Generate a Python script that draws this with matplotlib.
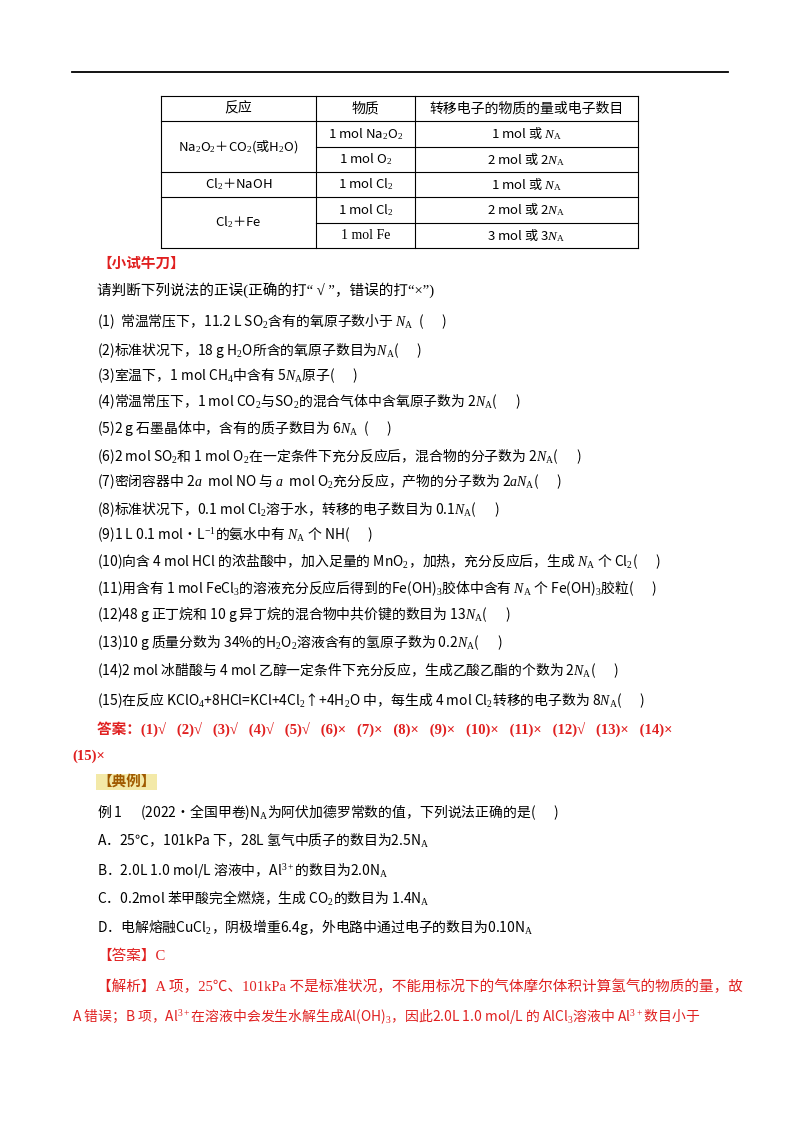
import matplotlib.pyplot as plt
from matplotlib.lines import Line2D

plt.rcParams['font.family'] = ['Liberation Serif', 'Noto Sans CJK SC', 'DejaVu Sans']
plt.rcParams['mathtext.fontset'] = 'custom'
plt.rcParams['mathtext.rm'] = 'Liberation Serif'
plt.rcParams['mathtext.it'] = 'Liberation Serif:italic'

NA = r"$N_\mathrm{A}$"
RED = '#e02020'

# table content
table_header = ["反应", "物质", "转移电子的物质的量或电子数目"]
table_groups = [
    (r"Na$_2$O$_2$＋CO$_2$(或H$_2$O)", [(r"1 mol Na$_2$O$_2$", "1 mol 或 " + NA),
                                       (r"1 mol O$_2$", "2 mol 或 2" + NA)]),
    (r"Cl$_2$＋NaOH", [(r"1 mol Cl$_2$", "1 mol 或 " + NA)]),
    (r"Cl$_2$＋Fe", [(r"1 mol Cl$_2$", "2 mol 或 2" + NA),
                    ("1 mol Fe", "3 mol 或 3" + NA)]),
]

questions = [
    r"(1)  常温常压下，11.2 L SO$_2$含有的氧原子数小于 " + NA + r"  (      )",
    r"(2)标准状况下，18 g H$_2$O所含的氧原子数目为" + NA + r"(      )",
    r"(3)室温下，1 mol CH$_4$中含有 5" + NA + r"原子(      )",
    r"(4)常温常压下，1 mol CO$_2$与SO$_2$的混合气体中含氧原子数为 2" + NA + r"(      )",
    r"(5)2 g 石墨晶体中，含有的质子数目为 6" + NA + r"  (      )",
    r"(6)2 mol SO$_2$和 1 mol O$_2$在一定条件下充分反应后，混合物的分子数为 2" + NA + r"(      )",
    r"(7)密闭容器中 2$a$  mol NO 与 $a$  mol O$_2$充分反应，产物的分子数为 2$a$" + NA + r"(      )",
    r"(8)标准状况下，0.1 mol Cl$_2$溶于水，转移的电子数目为 0.1" + NA + r"(      )",
    r"(9)1 L 0.1 mol·L$^{-1}$的氨水中有 " + NA + r" 个 NH(      )",
    r"(10)向含 4 mol HCl 的浓盐酸中，加入足量的 MnO$_2$，加热，充分反应后，生成 " + NA + r" 个 Cl$_2$(      )",
    r"(11)用含有 1 mol FeCl$_3$的溶液充分反应后得到的Fe(OH)$_3$胶体中含有 " + NA + r" 个 Fe(OH)$_3$胶粒(      )",
    r"(12)48 g 正丁烷和 10 g 异丁烷的混合物中共价键的数目为 13" + NA + r"(      )",
    r"(13)10 g 质量分数为 34%的H$_2$O$_2$溶液含有的氢原子数为 0.2" + NA + r"(      )",
    r"(14)2 mol 冰醋酸与 4 mol 乙醇一定条件下充分反应，生成乙酸乙酯的个数为 2" + NA + r"(      )",
    r"(15)在反应 KClO$_4$+8HCl=KCl+4Cl$_2$↑+4H$_2$O 中，每生成 4 mol Cl$_2$转移的电子数为 8" + NA + r"(      )",
]
question_y = [322, 350, 376, 402, 429, 456, 482, 509, 535, 561, 588, 614, 642, 670, 701]

answers = ["(1)√", "(2)√", "(3)√", "(4)√", "(5)√", "(6)×", "(7)×", "(8)×",
           "(9)×", "(10)×", "(11)×", "(12)√", "(13)×", "(14)×"]

example_lines = [
    (97, 812, "例 1      (2022•全国甲卷)N$_\\mathrm{A}$为阿伏加德罗常数的值，下列说法正确的是(      )"),
    (97, 841, "A．25℃，101kPa 下，28L 氢气中质子的数目为2.5N$_\\mathrm{A}$"),
    (97, 870, "B．2.0L 1.0 mol/L 溶液中，Al$^{3+}$的数目为2.0N$_\\mathrm{A}$"),
    (97, 898, "C．0.2mol 苯甲酸完全燃烧，生成 CO$_2$的数目为 1.4N$_\\mathrm{A}$"),
    (97, 927, "D．电解熔融CuCl$_2$，阴极增重6.4g，外电路中通过电子的数目为0.10N$_\\mathrm{A}$"),
]
analysis_lines = [
    (97, 956, "【答案】C"),
    (97, 987, "【解析】A 项，25℃、101kPa 不是标准状况，不能用标况下的气体摩尔体积计算氢气的物质的量，故"),
    (72, 1017, "A 错误；B 项，Al$^{3+}$在溶液中会发生水解生成Al(OH)$_3$，因此2.0L 1.0 mol/L 的 AlCl$_3$溶液中 Al$^{3+}$数目小于"),
]

W, H = 800, 1132
fig = plt.figure(figsize=(8, 11.32), dpi=100)
fig.patch.set_facecolor('white')
FS = 10.5


def put(x, y, s, **kw):
    kw.setdefault('fontsize', FS)
    kw.setdefault('va', 'center')
    if '$' in s:
        # mathtext plain parts use only the first family, so pick the CJK one
        kw['family'] = 'Noto Sans CJK SC'
        kw['fontsize'] = kw['fontsize'] * 0.95
    fig.text(x / W, 1 - y / H, s, **kw)


def hline(x0, x1, y, lw=0.8):
    fig.add_artist(Line2D([x0 / W, x1 / W], [1 - y / H] * 2, color='black', lw=lw))


def vline(x, y0, y1, lw=0.8):
    fig.add_artist(Line2D([x / W] * 2, [1 - y0 / H, 1 - y1 / H], color='black', lw=lw))


# header rule
hline(72, 728, 72, lw=1.3)

# table
cols = [161, 316, 415, 638]
row_h = 25.3
top = 96
nrows = 1 + sum(len(g[1]) for g in table_groups)
bottom = top + nrows * row_h
for c in cols:
    vline(c, top, bottom)
hline(cols[0], cols[-1], top)
for i, h in enumerate(table_header):
    put((cols[i] + cols[i + 1]) / 2, top + row_h / 2, h, ha='center', fontsize=10)
y = top + row_h
hline(cols[0], cols[-1], y)
for react, subs in table_groups:
    gy0 = y
    for j, (sub, amt) in enumerate(subs):
        put((cols[1] + cols[2]) / 2, y + row_h / 2, sub, ha='center', fontsize=10)
        put((cols[2] + cols[3]) / 2, y + row_h / 2, amt, ha='center', fontsize=10)
        y += row_h
        if j < len(subs) - 1:
            hline(cols[1], cols[3], y)
    put((cols[0] + cols[1]) / 2, (gy0 + y) / 2, react, ha='center', fontsize=10)
    hline(cols[0], cols[-1], y)

# 小试牛刀
put(97, 264, "【小试牛刀】", color=RED, fontweight='bold')
put(97, 291, "请判断下列说法的正误(正确的打“ √ ”，错误的打“×”)")
for s, qy in zip(questions, question_y):
    put(97, qy, s)

put(97, 729, "答案：" + "   ".join(answers), color=RED, fontweight='bold')
put(72, 756, "(15)×", color=RED, fontweight='bold')

# 典例
put(97, 782, "【典例】", color='#a05a00', fontweight='bold',
    bbox=dict(facecolor='#f3e9a8', edgecolor='none', pad=1))
for x, yy, s in example_lines:
    put(x, yy, s)
for x, yy, s in analysis_lines:
    put(x, yy, s, color=RED)

fig.savefig("out.png", dpi=100, facecolor='white')
